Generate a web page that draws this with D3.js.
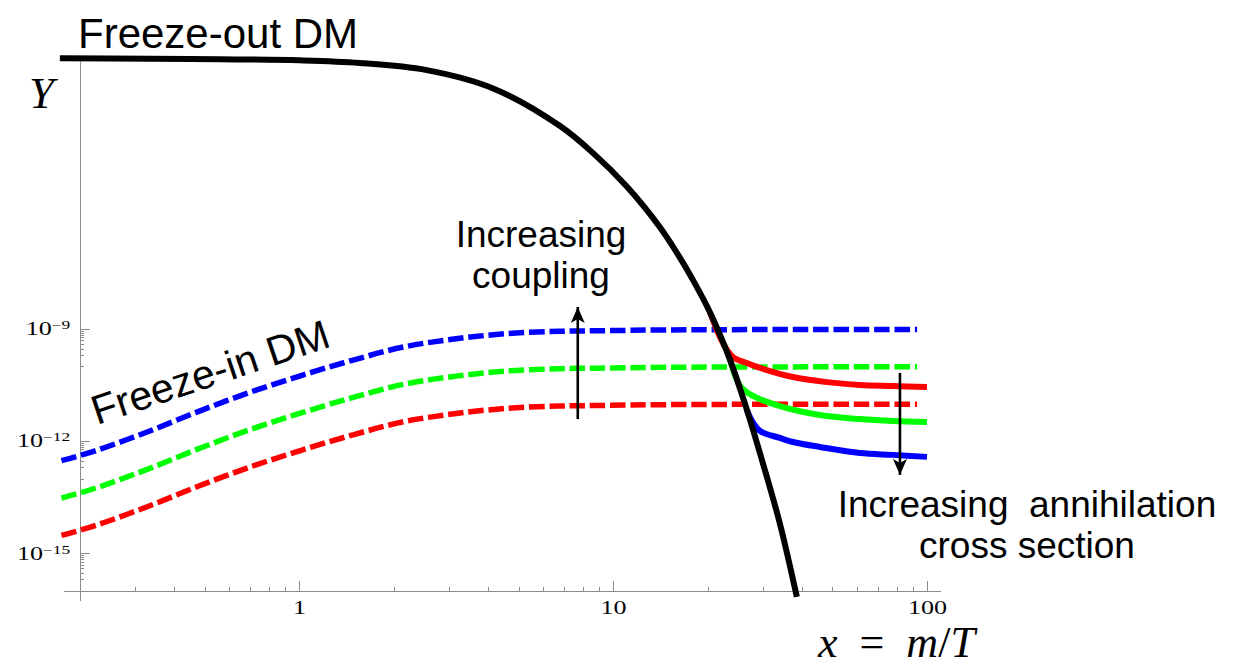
<!DOCTYPE html>
<html>
<head>
<meta charset="utf-8">
<script src="https://cdnjs.cloudflare.com/ajax/libs/d3/7.8.5/d3.min.js"></script>
<style>
  body { margin: 0; background: #fff; }
  svg { display: block; }
  .axis path, .axis line { stroke: #8c8c8c; stroke-width: 1; shape-rendering: crispEdges; }
  .axis text { font-family: "Liberation Serif", "Times New Roman", serif; fill: #000; }
  .note { font-family: "Liberation Sans", Arial, sans-serif; fill: #000; white-space: pre; }
  .math { font-family: "Liberation Serif", "Times New Roman", serif; fill: #000; white-space: pre; }
</style>
</head>
<body>
<svg width="1238" height="666"></svg>
<script>
/* values: [x = m/T, Y] */

// freeze-in, dashed
var blueIn = [[0.175,3.0e-13],[0.224,5.5e-13],[0.328,1.76e-12],[0.477,6.2e-12],[0.693,2.0e-11],
  [1.015,5.7e-11],[1.486,1.48e-10],[2.16,3.34e-10],[3.16,5.5e-10],[4.63,7.6e-10],[6.73,8.7e-10],
  [8.89,9.0e-10],[15,9.5e-10],[30,9.7e-10],[93,9.8e-10]];
var greenIn = [[0.175,3.0e-14],[0.224,5.5e-14],[0.328,1.76e-13],[0.477,6.2e-13],[0.693,2.0e-12],
  [1.015,5.7e-12],[1.486,1.48e-11],[2.16,3.34e-11],[3.16,5.5e-11],[4.63,7.6e-11],[6.73,8.7e-11],
  [8.89,9.0e-11],[15,9.5e-11],[30,9.7e-11],[93,9.8e-11]];
var redIn = [[0.175,3.0e-15],[0.224,5.5e-15],[0.328,1.76e-14],[0.477,6.2e-14],[0.693,2.0e-13],
  [1.015,5.7e-13],[1.486,1.48e-12],[2.16,3.34e-12],[3.16,5.5e-12],[4.63,7.6e-12],[6.73,8.7e-12],
  [8.89,9.0e-12],[15,9.5e-12],[30,9.7e-12],[93,9.8e-12]];

// freeze-out relics, solid
var redOut = [[20.4,2.7e-9],[22.4,4.2e-10],[24.1,1.78e-10],[26.7,1.23e-10],[29.4,9.1e-11],
  [37.4,5.2e-11],[48,3.8e-11],[61.2,3.2e-11],[77.9,3.0e-11],[100,2.8e-11]];
var greenOut = [[23.6,1.48e-10],[25.4,3.0e-11],[27.9,1.62e-11],[34,8.7e-12],[45.6,5.0e-12],
  [61.2,3.9e-12],[77.9,3.47e-12],[100,3.26e-12]];
var blueOut = [[26.7,6.8e-12],[27.7,3.5e-12],[29.4,1.87e-12],[34,1.22e-12],[37.4,9.5e-13],
  [45.6,7.0e-13],[61.2,4.8e-13],[77.9,4.3e-13],[100,3.8e-13]];

// equilibrium (black)
var equil = [[0.173,1.76e-2],[0.335,1.71e-2],[0.56,1.66e-2],[1.0,1.55e-2],[1.56,1.32e-2],
  [2.55,8.5e-3],[4.15,2.75e-3],[6.78,2.7e-4],[8.64,5.1e-5],[11.1,6.3e-6],[14.1,5.3e-7],
  [16.0,1.07e-7],[17.98,2.04e-8],[20.4,2.7e-9],[23.6,1.48e-10],[26.7,6.8e-12],[30.0,2.6e-13],
  [34.0,6.2e-15],[38.5,6.8e-17]];

// ticks
var xMajor = [1, 10, 100],
    xMinor = [0.2,0.3,0.4,0.5,0.6,0.7,0.8,0.9,2,3,4,5,6,7,8,9,20,30,40,50,60,70,80,90];
var yMajor = [1e-9, 1e-12, 1e-15],
    yMinor = [];
[-10, -13, -16].forEach(function(p) {
  for (var k = 1; k <= 9; k++) yMinor.push(k * Math.pow(10, p));
});

// annotation arrows [x, yFrom, yTo]
var arrowUp = [7.72, 3.9e-12, 3.9e-9],
    arrowDown = [82, 6.7e-11, 1.25e-13];

var svg = d3.select("svg");

var x = d3.scaleLog().domain([0.177, 110]).range([63, 940]),
    y = d3.scaleLog().domain([Math.pow(10, -16.25), Math.pow(10, -1.8)]).range([600, 60]);

var line = d3.line()
    .curve(d3.curveCatmullRom.alpha(0.5))
    .x(function(d) { return x(d[0]); })
    .y(function(d) { return y(d[1]); });

// axes (tick labels are stretched sideways like the original)
var xOrigin = 0.2, yOrigin = 1e-16, stretch = 1.45;

svg.append("g").attr("class", "axis")
    .attr("transform", "translate(0," + y(yOrigin) + ")")
    .call(d3.axisBottom(x).tickValues(xMinor).tickSize(-4).tickSizeOuter(0).tickFormat(""));
var xax = svg.append("g").attr("class", "axis")
    .attr("transform", "translate(0," + y(yOrigin) + ")")
    .call(d3.axisBottom(x).tickValues(xMajor).tickSize(-10).tickSizeOuter(0).tickPadding(11)
      .tickFormat(d3.format("d")));
xax.select(".domain").remove();
xax.selectAll(".tick text")
    .attr("font-size", 18)
    .attr("transform", "scale(" + stretch + ",1)");

svg.append("g").attr("class", "axis")
    .attr("transform", "translate(" + x(xOrigin) + ",0)")
    .call(d3.axisLeft(y).tickValues(yMinor).tickSize(-4).tickSizeOuter(0).tickFormat(""));
var yax = svg.append("g").attr("class", "axis")
    .attr("transform", "translate(" + x(xOrigin) + ",0)")
    .call(d3.axisLeft(y).tickValues(yMajor).tickSize(-10).tickSizeOuter(0).tickPadding(6.5)
      .tickFormat(""));
yax.select(".domain").remove();
yax.selectAll(".tick text")
    .attr("font-size", 18)
    .attr("transform", "scale(" + stretch + ",1)")
    .each(function(d) {
      var t = d3.select(this), p = Math.round(Math.log10(d));
      t.append("tspan").text("10");
      t.append("tspan").text("\u2212" + (-p))
          .attr("font-size", 12).attr("dy", "-0.5em");
    });

// curves
function draw(data, color, dashed) {
  var p = svg.append("path")
      .datum(data)
      .attr("fill", "none")
      .attr("stroke", color)
      .attr("stroke-width", dashed ? 5.5 : 6)
      .attr("stroke-linejoin", "round")
      .attr("d", line);
  if (dashed) p.attr("stroke-dasharray", "15.5,4.8");
}
draw(redIn, "#ff0000", true);
draw(greenIn, "#00ff00", true);
draw(blueIn, "#0000ff", true);
draw(redOut, "#ff0000", false);
draw(greenOut, "#00ff00", false);
draw(blueOut, "#0000ff", false);

svg.append("path")
    .datum(equil)
    .attr("fill", "none")
    .attr("stroke", "#000")
    .attr("stroke-width", 6)
    .attr("stroke-linejoin", "round")
    .attr("d", line);

// arrows
svg.append("defs").append("marker")
    .attr("id", "head")
    .attr("markerUnits", "userSpaceOnUse")
    .attr("markerWidth", 20).attr("markerHeight", 20)
    .attr("refX", 16).attr("refY", 8)
    .attr("orient", "auto")
  .append("path")
    .attr("d", "M16,8 L0,1 L4,8 L0,15 Z")
    .attr("fill", "#000");

[arrowUp, arrowDown].forEach(function(a) {
  svg.append("line")
      .attr("x1", x(a[0])).attr("x2", x(a[0]))
      .attr("y1", y(a[1])).attr("y2", y(a[2]))
      .attr("stroke", "#000")
      .attr("stroke-width", 2.6)
      .attr("marker-end", "url(#head)");
});

// labels
svg.append("text").attr("class", "note")
    .attr("x", 78).attr("y", 48)
    .attr("font-size", "42px")
    .text("Freeze-out DM");

svg.append("text").attr("class", "note")
    .attr("transform", "translate(97,425) rotate(-18.5)")
    .attr("font-size", "41px")
    .text("Freeze-in DM");

var t1 = svg.append("text").attr("class", "note")
    .attr("font-size", "37px").attr("text-anchor", "middle");
t1.append("tspan").attr("x", 541).attr("y", 247).text("Increasing");
t1.append("tspan").attr("x", 541).attr("y", 288).text("coupling");

var t2 = svg.append("text").attr("class", "note")
    .attr("font-size", "37px").attr("text-anchor", "middle");
t2.append("tspan").attr("x", 1027).attr("y", 517).text("Increasing  annihilation");
t2.append("tspan").attr("x", 1027).attr("y", 558).text("cross section");

svg.append("text").attr("class", "math")
    .attr("x", 29).attr("y", 108)
    .attr("font-size", "45px").attr("font-style", "italic")
    .text("Y");

var xl = svg.append("text").attr("class", "math")
    .attr("x", 818).attr("y", 657)
    .attr("font-size", "44px");
xl.append("tspan").attr("font-style", "italic").text("x");
xl.append("tspan").text("  =  ");
xl.append("tspan").attr("font-style", "italic").text("m");
xl.append("tspan").text("/");
xl.append("tspan").attr("font-style", "italic").text("T");
</script>
</body>
</html>
